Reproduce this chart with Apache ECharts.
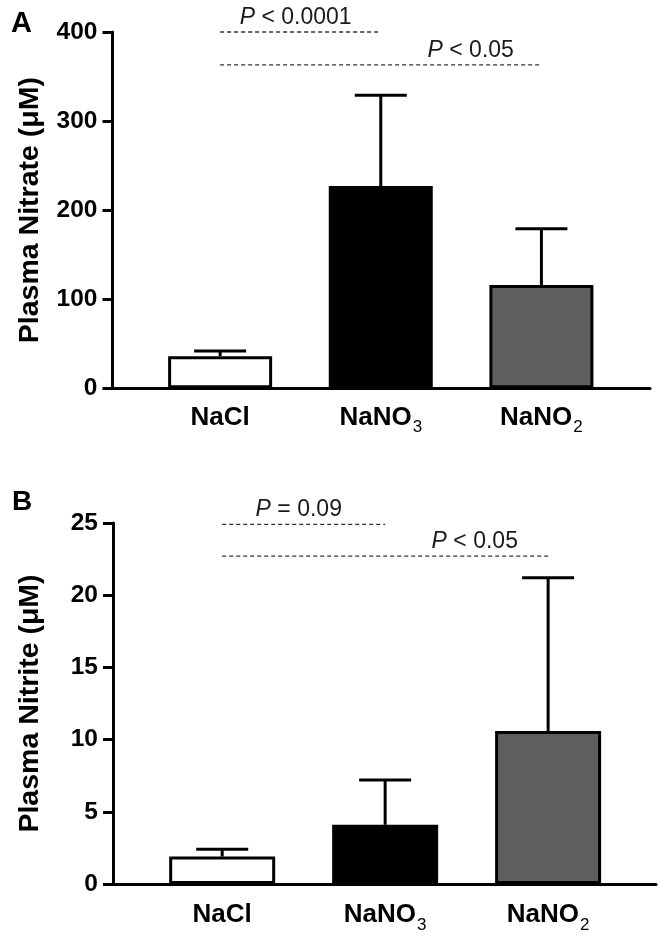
<!DOCTYPE html>
<html>
<head>
<meta charset="utf-8">
<script src="https://cdn.jsdelivr.net/npm/echarts@6/dist/echarts.min.js"></script>
<style>html,body{margin:0;padding:0;background:#fff}#c{width:663px;height:937px}</style>
</head>
<body>
<div id="c"></div>
<script>
// ---- data ----
const categories = ['NaCl', 'NaNO3', 'NaNO2'];
const nitrateMean = [36, 227, 116];
const nitrateSD = [6, 102, 63];
const nitriteMean = [1.9, 4.1, 10.6];
const nitriteSD = [0.5, 3.1, 10.6];
const nitrateTicks = [0, 400, 100];   // min, max, interval
const nitriteTicks = [0, 25, 5];
// significance annotations (category positions 1..3)
const nitrateSigFrom = [1, 1];
const nitrateSigTo = [2, 3];
const nitrateSigLevel = [400, 363];
const nitrateSigTextX = [1.47, 2.56];
const nitrateSigText = ['< 0.0001', '< 0.05'];
const nitriteSigFrom = [1, 1];
const nitriteSigTo = [2, 3];
const nitriteSigLevel = [24.9, 22.7];
const nitriteSigTextX = [1.47, 2.55];
const nitriteSigText = ['= 0.09', '< 0.05'];

// ---- styles ----
const FONT = "'Liberation Sans', Arial, Helvetica, sans-serif";
const fills = ['#ffffff', '#000000', '#5e5e5e'];

const chart = echarts.init(document.getElementById('c'), null, {renderer: 'canvas'});

function catLabel(v) {
  const name = categories[Math.round(v) - 1] || '';
  const m = name.match(/^(.*?)(\d+)$/);
  if (m) return '{b|' + m[1] + '}{s|' + m[2] + '}';
  return '{b|' + name + '}';
}

function xAxisCfg(gi, max, margin) {
  return {
    type: 'value', gridIndex: gi, min: 0.33, max: max,
    axisLine: {show: true, onZero: false, lineStyle: {color: '#000', width: 3}},
    axisTick: {show: false},
    splitLine: {show: false},
    axisLabel: {
      customValues: categories.map((c, i) => i + 1),
      formatter: catLabel,
      margin: margin,
      rich: {
        b: {fontFamily: FONT, fontSize: 26, fontWeight: 'bold', color: '#000', lineHeight: 37},
        s: {fontFamily: FONT, fontSize: 17, fontWeight: 'normal', color: '#000', padding: [20, 0, 0, 1]}
      }
    }
  };
}

function yAxisCfg(gi, ticks, name) {
  return {
    type: 'value', gridIndex: gi, min: ticks[0], max: ticks[1], interval: ticks[2],
    name: name, nameLocation: 'middle', nameGap: 68,
    nameTextStyle: {fontFamily: FONT, fontSize: 28.5, fontWeight: 'bold', color: '#000'},
    axisLine: {show: true, lineStyle: {color: '#000', width: 3}},
    axisTick: {show: true, length: 10, lineStyle: {color: '#000', width: 3}},
    splitLine: {show: false},
    axisLabel: {fontFamily: FONT, fontSize: 24.5, fontWeight: 'bold', color: '#000', margin: 15}
  };
}

function barSeries(gi, mean, bw) {
  return {
    type: 'bar', xAxisIndex: gi, yAxisIndex: gi, barWidth: bw,
    data: categories.map((c, i) => ({value: [i + 1, mean[i]], itemStyle: {color: fills[i]}})),
    itemStyle: {borderColor: '#000', borderWidth: 3},
    z: 3, silent: true
  };
}

function errSeries(gi, mean, sd) {
  return {
    type: 'custom', xAxisIndex: gi, yAxisIndex: gi, z: 2, silent: true,
    data: categories.map((c, i) => [i + 1, mean[i], mean[i] + sd[i]]),
    renderItem: function (params, api) {
      const x = api.value(0);
      const p0 = api.coord([x, api.value(1)]);
      const p1 = api.coord([x, api.value(2)]);
      const st = {stroke: '#000', lineWidth: 3};
      return {type: 'group', children: [
        {type: 'line', shape: {x1: p0[0], y1: p0[1], x2: p1[0], y2: p1[1]}, style: st},
        {type: 'line', shape: {x1: p1[0] - 26, y1: p1[1], x2: p1[0] + 26, y2: p1[1]}, style: st}
      ]};
    }
  };
}

function sigSeries(gi, from, to, level, tx, texts) {
  return {
    type: 'custom', xAxisIndex: gi, yAxisIndex: gi, z: 5, silent: true, clip: false,
    data: from.map((f, i) => [f, level[i]]),
    renderItem: function (params, api) {
      const i = params.dataIndex;
      const a = api.coord([from[i], level[i]]);
      const b = api.coord([to[i], level[i]]);
      const t = api.coord([tx[i], level[i]]);
      return {type: 'group', children: [
        {type: 'line', shape: {x1: a[0], y1: a[1], x2: b[0], y2: b[1]},
         style: {stroke: '#333', lineWidth: 1.3, lineDash: [4, 3]}},
        {type: 'text', x: t[0], y: a[1] - 3,
         style: {text: '{i|P} ' + texts[i], fontFamily: FONT, fontSize: 23, fill: '#1a1a1a',
                 align: 'center', verticalAlign: 'bottom',
                 rich: {i: {fontFamily: FONT, fontSize: 23, fontStyle: 'italic', fill: '#1a1a1a'}}}}
      ]};
    }
  };
}

chart.setOption({
  animation: false,
  backgroundColor: '#fff',
  grid: [
    {left: 112.5, top: 32, width: 537.5, height: 356.3},
    {left: 113, top: 523, width: 543, height: 361}
  ],
  xAxis: [xAxisCfg(0, 3.676, 11), xAxisCfg(1, 3.662, 12.5)],
  yAxis: [yAxisCfg(0, nitrateTicks, 'Plasma Nitrate (\u03bcM)'), yAxisCfg(1, nitriteTicks, 'Plasma Nitrite (\u03bcM)')],
  graphic: [
    {type: 'text', x: 11, y: 24, style: {text: 'A', fontFamily: FONT, fontSize: 29, fontWeight: 'bold', fill: '#000', verticalAlign: 'middle'}},
    {type: 'text', x: 12, y: 502, style: {text: 'B', fontFamily: FONT, fontSize: 28, fontWeight: 'bold', fill: '#000', verticalAlign: 'middle'}}
  ],
  series: [
    barSeries(0, nitrateMean, 104), errSeries(0, nitrateMean, nitrateSD),
    sigSeries(0, nitrateSigFrom, nitrateSigTo, nitrateSigLevel, nitrateSigTextX, nitrateSigText),
    barSeries(1, nitriteMean, 106), errSeries(1, nitriteMean, nitriteSD),
    sigSeries(1, nitriteSigFrom, nitriteSigTo, nitriteSigLevel, nitriteSigTextX, nitriteSigText)
  ]
});
</script>
</body>
</html>
